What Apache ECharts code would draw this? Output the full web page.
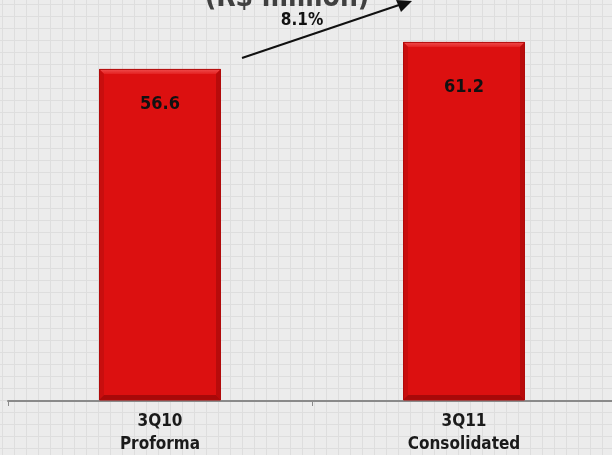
<!DOCTYPE html>
<html><head><meta charset="utf-8">
<script src="https://cdn.jsdelivr.net/npm/echarts@6/dist/echarts.min.js"></script>
<style>
html,body{margin:0;padding:0;}
#c{width:612px;height:455px;
background-color:#ececec;
background-image:linear-gradient(to right,#dedede 1px,transparent 1px),linear-gradient(to bottom,#dedede 1px,transparent 1px);
background-size:12px 12px;background-position:2px 4px;}
</style></head><body><div id="c"></div>
<script>
const categories = ['3Q10\nProforma', '3Q11\nConsolidated'];
const values = [56.6, 61.2];
const labelOffsets = [35, 45];
const growthLabel = '8.1%';
const titleText = '(R$ million)';

const BAR_W = 122, BEV = 5;
const chart = echarts.init(document.getElementById('c'), null, {renderer:'canvas'});
chart.setOption({
  backgroundColor: 'transparent',
  animation: false,
  grid: {left: 8, right: -4, top: 2, bottom: 54, outerBoundsMode: 'none', containLabel: false},
  xAxis: {
    type: 'category', data: categories,
    axisLine: {lineStyle: {color: '#8a8a8a', width: 2}},
    axisTick: {show: true, length: 5, lineStyle: {color: '#8a8a8a', width: 1}},
    axisLabel: {color: '#1a1a1a', fontWeight: 'bold', fontSize: 17, lineHeight: 23,
      fontFamily: 'DejaVu Sans Condensed', margin: 9}
  },
  yAxis: {type: 'value', min: 0, max: 68, show: false, splitLine: {show: false}},
  series: [{
    type: 'custom',
    data: values.map((v, i) => [i, v]),
    z: 2,
    renderItem: function (params, api) {
      const i = api.value(0), v = api.value(1);
      const top = api.coord([i, v]);
      const base = api.coord([i, 0]);
      const x0 = top[0] - BAR_W / 2, x1 = top[0] + BAR_W / 2;
      const y0 = top[1], y1 = base[1] - 1;
      const b = BEV;
      return {type: 'group', children: [
        {type: 'rect', shape: {x: x0, y: y0, width: BAR_W, height: y1 - y0}, style: {fill: '#dc1010'}},
        {type: 'polygon', shape: {points: [[x0, y0], [x1, y0], [x1 - b, y0 + b], [x0 + b, y0 + b]]},
          style: {fill: {type: 'linear', x: 0, y: 0, x2: 0, y2: 1, colorStops: [{offset: 0, color: '#f05050'}, {offset: 1, color: '#e42222'}]}}},
        {type: 'polygon', shape: {points: [[x0, y0], [x0 + b, y0 + b], [x0 + b, y1 - b], [x0, y1]]},
          style: {fill: '#c80e0e'}},
        {type: 'polygon', shape: {points: [[x1, y0], [x1, y1], [x1 - b, y1 - b], [x1 - b, y0 + b]]},
          style: {fill: '#b80b0b'}},
        {type: 'polygon', shape: {points: [[x0, y1], [x0 + b, y1 - b], [x1 - b, y1 - b], [x1, y1]]},
          style: {fill: '#a80909'}},
        {type: 'rect', shape: {x: x0 + 0.5, y: y0 + 0.5, width: BAR_W - 1, height: y1 - y0 - 0.5},
          style: {fill: 'none', stroke: '#b00a0a', lineWidth: 1}},
        {type: 'text', x: top[0], y: y0 + labelOffsets[i], style: {
          text: v.toFixed(1), fill: '#111', align: 'center', verticalAlign: 'middle',
          font: 'bold 18px "DejaVu Sans Condensed"'}}
      ]};
    }
  }],
  graphic: [
    {type: 'text', x: 287, y: -15, z: 10,
      style: {text: titleText, align: 'center', verticalAlign: 'top', fill: '#404040', font: 'bold 28px "DejaVu Sans Condensed"'}},
    {type: 'line', shape: {x1: 242, y1: 58, x2: 402, y2: 4}, style: {stroke: '#111', lineWidth: 2}},
    {type: 'polygon', shape: {points: [[412, 1], [396, 0], [401, 12]]}, style: {fill: '#111'}},
    {type: 'text', x: 302, y: 21, style: {text: growthLabel, fill: '#111', align: 'center', verticalAlign: 'middle',
      font: 'bold 17px "DejaVu Sans Condensed"'}}
  ]
});
</script></body></html>
